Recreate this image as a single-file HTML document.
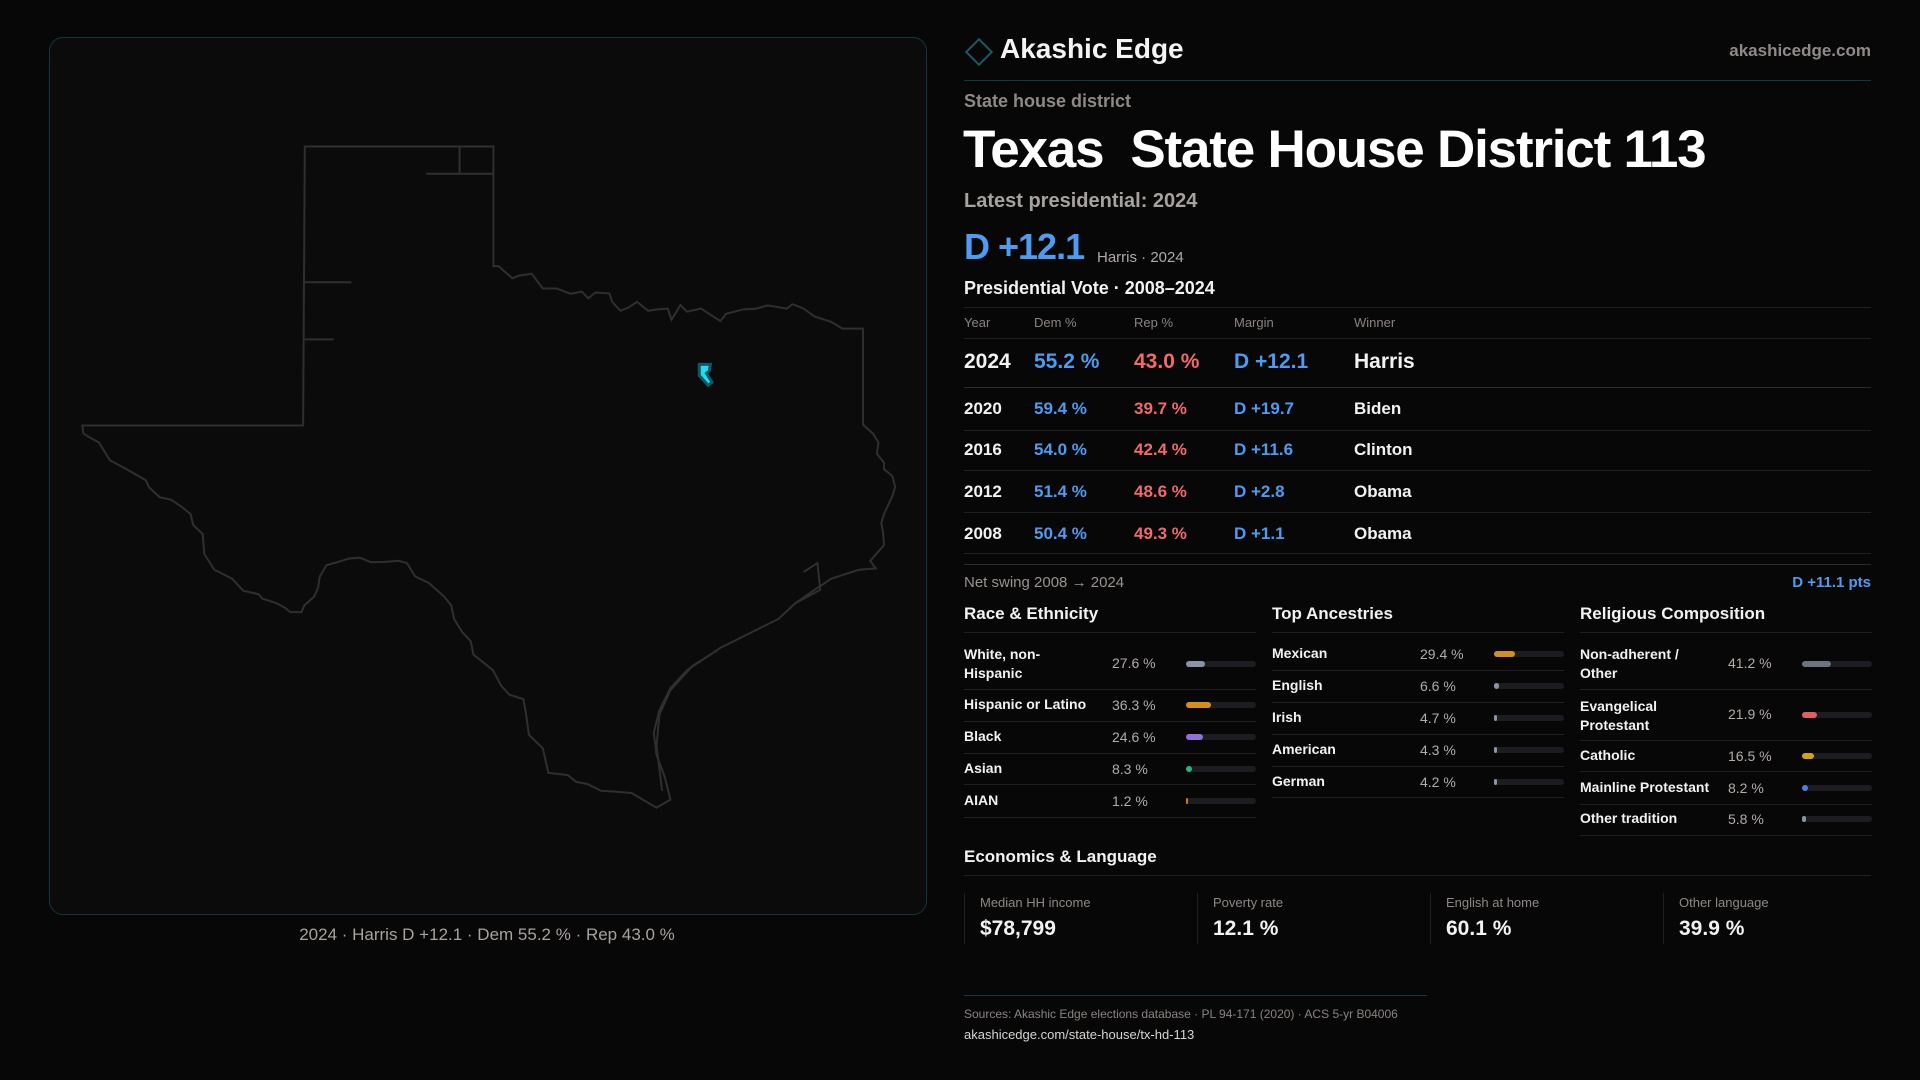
<!DOCTYPE html>
<html><head><meta charset="utf-8"><style>
*{margin:0;padding:0;box-sizing:border-box}
body{width:1920px;height:1080px;background:#070708;font-family:"Liberation Sans",sans-serif;color:#f2f2f2;position:relative;overflow:hidden}
.a{position:absolute;white-space:nowrap}
.panel{position:absolute;left:49px;top:37px;width:878px;height:878px;border:1px solid #14363e;border-radius:14px;background:#0b0b0c}
.g{color:#9a9390}
.blue{color:#4f9bf0}.red{color:#f06a6a}
.hl{position:absolute;height:1px;background:#1e1f22}
.bar{position:absolute;height:6px;border-radius:3px;background:#1c1d21;width:70px}
.bar i{position:absolute;left:0;top:0;height:6px;border-radius:3px;min-width:2px}
.t{font-size:14px}
</style></head><body>
<div class="panel"></div>
<svg class="a" style="left:49px;top:130px" width="870" height="700" viewBox="0 0 1568 1568" preserveAspectRatio="none">
<g fill="none" stroke="#2f2f31" stroke-width="2">
<path vector-effect="non-scaling-stroke" d="M461,37 L801,37 L801,305 L810,305 L835,332 L848,326 L870,322 L890,355 L915,355 L940,367 L960,362 L972,377 L985,364 L1010,366 L1015,385 L1030,405 L1045,397 L1060,385 L1080,405 L1095,402 L1115,400 L1122,425 L1138,392 L1150,407 L1175,400 L1190,412 L1210,428 L1220,412 L1250,402 L1275,400 L1295,393 L1330,400 L1340,390 L1360,400 L1380,418 L1410,430 L1430,445 L1467,445 L1467,660 L1485,680 L1495,700 L1492,725 L1505,745 L1505,760 L1520,775 L1525,800 L1520,820 L1505,860 L1500,880 L1503,900 L1505,930 L1480,965 L1490,982 L1460,985 L1410,1005 L1380,1030 L1345,1060 L1315,1095 L1210,1160 L1150,1210 L1120,1250 L1100,1300 L1090,1350 L1095,1400 L1110,1450 L1120,1500 L1095,1518 L1070,1500 L1050,1485 L1020,1482 L995,1480 L970,1465 L950,1460 L935,1445 L900,1440 L890,1385 L865,1355 L860,1310 L855,1275 L830,1265 L815,1245 L800,1210 L780,1190 L765,1175 L760,1145 L745,1125 L730,1095 L725,1065 L712,1045 L685,1015 L660,1000 L645,970 L630,965 L600,968 L580,968 L560,958 L540,960 L520,968 L500,975 L488,1000 L485,1025 L478,1045 L460,1065 L455,1080 L435,1080 L425,1070 L410,1060 L385,1050 L378,1040 L350,1032 L330,1005 L298,985 L280,950 L277,905 L260,885 L255,860 L240,845 L220,828 L200,823 L180,800 L175,785 L140,760 L110,740 L100,720 L90,700 L75,690 L62,680 L60,662 L458,662 Z"/>
<path vector-effect="non-scaling-stroke" d="M740,37 L740,98 M680,98 L801,98 M461,341 L545,341 M461,469 L513,469 M1105,1480 L1095,1380 L1100,1310 L1120,1255 L1160,1200 L1205,1165 M1345,1060 L1390,1030 L1385,970 L1360,990"/>
</g>
<path d="M1172,525 L1192,525 L1190,540 L1185,545 L1195,565 L1188,572 L1172,550 Z" fill="#22dcf2" stroke="#0e5866" stroke-width="3" vector-effect="non-scaling-stroke"/>
</svg>
<div class="a g" style="left:0;width:974px;text-align:center;top:925px;font-size:17px;color:#a8a29e">2024 · Harris D +12.1 · Dem 55.2 % · Rep 43.0 %</div>

<div class="a" style="left:969px;top:42px;width:20px;height:20px;border:2px solid #1c5866;transform:rotate(45deg)"></div>
<div class="a" style="left:1000px;top:33px;font-size:28px;font-weight:bold;color:#f4f4f4">Akashic Edge</div>
<div class="a g" style="right:49px;top:41px;font-size:17px;font-weight:bold;color:#8f8a88">akashicedge.com</div>
<div class="hl" style="left:964px;width:907px;top:80px;background:#0f3a44"></div>
<div class="a g" style="left:964px;top:91px;font-size:18px;font-weight:bold;color:#8f8884">State house district</div>
<div class="a" style="left:963px;top:119px;font-size:53px;font-weight:bold;letter-spacing:-1.2px;color:#fff">Texas&nbsp; State House District 113</div>
<div class="a g" style="left:964px;top:190px;font-size:20px;font-weight:bold;color:#a8a29e">Latest presidential: 2024</div>
<div class="a blue" style="left:964px;top:226px;font-size:36px;font-weight:bold;letter-spacing:-1px">D +12.1</div>
<div class="a g" style="left:1097px;top:249px;font-size:15px;color:#b0aaa6">Harris · 2024</div>
<div class="a" style="left:964px;top:278px;font-size:18px;font-weight:bold">Presidential Vote · 2008–2024</div>
<div class="hl" style="left:964px;width:907px;top:307px"></div>
<div class="a g t" style="left:964px;top:315px;font-size:13px;color:#8a8480">Year</div>
<div class="a g" style="left:1034px;top:315px;font-size:13px;color:#8a8480">Dem %</div>
<div class="a g" style="left:1134px;top:315px;font-size:13px;color:#8a8480">Rep %</div>
<div class="a g" style="left:1234px;top:315px;font-size:13px;color:#8a8480">Margin</div>
<div class="a g" style="left:1354px;top:315px;font-size:13px;color:#8a8480">Winner</div>
<div class="hl" style="left:964px;width:907px;top:338px"></div>
<div style="position:absolute;left:964px;top:350px;font-size:21px;font-weight:bold">
<span class="a" style="left:0">2024</span><span class="a blue" style="left:70px">55.2 %</span><span class="a red" style="left:170px">43.0 %</span><span class="a blue" style="left:270px">D +12.1</span><span class="a" style="left:390px">Harris</span></div>
<div class="hl" style="left:964px;width:907px;top:387px;background:#2a2b2e"></div>
<div style="position:absolute;left:964px;top:399px;font-size:17px;font-weight:bold">
<span class="a" style="left:0">2020</span><span class="a blue" style="left:70px">59.4 %</span><span class="a red" style="left:170px">39.7 %</span><span class="a blue" style="left:270px">D +19.7</span><span class="a" style="left:390px">Biden</span></div>
<div class="hl" style="left:964px;width:907px;top:430px"></div>
<div style="position:absolute;left:964px;top:440px;font-size:17px;font-weight:bold">
<span class="a" style="left:0">2016</span><span class="a blue" style="left:70px">54.0 %</span><span class="a red" style="left:170px">42.4 %</span><span class="a blue" style="left:270px">D +11.6</span><span class="a" style="left:390px">Clinton</span></div>
<div class="hl" style="left:964px;width:907px;top:470px"></div>
<div style="position:absolute;left:964px;top:482px;font-size:17px;font-weight:bold">
<span class="a" style="left:0">2012</span><span class="a blue" style="left:70px">51.4 %</span><span class="a red" style="left:170px">48.6 %</span><span class="a blue" style="left:270px">D +2.8</span><span class="a" style="left:390px">Obama</span></div>
<div class="hl" style="left:964px;width:907px;top:512px"></div>
<div style="position:absolute;left:964px;top:524px;font-size:17px;font-weight:bold">
<span class="a" style="left:0">2008</span><span class="a blue" style="left:70px">50.4 %</span><span class="a red" style="left:170px">49.3 %</span><span class="a blue" style="left:270px">D +1.1</span><span class="a" style="left:390px">Obama</span></div>
<div class="hl" style="left:964px;width:907px;top:553px"></div>
<div class="hl" style="left:964px;width:907px;top:564px;background:#2a2b2e"></div>
<div class="a g" style="left:964px;top:574px;font-size:15px;color:#9a9390">Net swing 2008 → 2024</div>
<div class="a blue" style="right:49px;top:574px;font-size:15px;font-weight:bold">D +11.1 pts</div>

<div class="a" style="left:964px;top:604px;font-size:17px;font-weight:bold">Race &amp; Ethnicity</div>
<div class="a" style="left:1272px;top:604px;font-size:17px;font-weight:bold">Top Ancestries</div>
<div class="a" style="left:1580px;top:604px;font-size:17px;font-weight:bold">Religious Composition</div>
<div class="hl" style="left:964px;width:292px;top:632px"></div>
<div class="hl" style="left:1272px;width:292px;top:632px"></div>
<div class="hl" style="left:1580px;width:292px;top:632px"></div>

<div class="a" style="left:964px;top:645px;font-size:14px;font-weight:bold;line-height:19px;white-space:normal;width:120px">White, non-<br>Hispanic</div>
<div class="a g t" style="left:1112px;top:655px;color:#b3aca8">27.6 %</div>
<div class="bar" style="left:1186px;top:661px"><i style="width:19px;background:#8a94a6"></i></div>
<div class="hl" style="left:964px;width:292px;top:689px"></div>
<div class="a" style="left:964px;top:696px;font-size:14px;font-weight:bold">Hispanic or Latino</div>
<div class="a g t" style="left:1112px;top:697px;color:#b3aca8">36.3 %</div>
<div class="bar" style="left:1186px;top:702px"><i style="width:25px;background:#d4901a"></i></div>
<div class="hl" style="left:964px;width:292px;top:721px"></div>
<div class="a" style="left:964px;top:728px;font-size:14px;font-weight:bold">Black</div>
<div class="a g t" style="left:1112px;top:729px;color:#b3aca8">24.6 %</div>
<div class="bar" style="left:1186px;top:734px"><i style="width:17px;background:#8e72d8"></i></div>
<div class="hl" style="left:964px;width:292px;top:753px"></div>
<div class="a" style="left:964px;top:760px;font-size:14px;font-weight:bold">Asian</div>
<div class="a g t" style="left:1112px;top:761px;color:#b3aca8">8.3 %</div>
<div class="bar" style="left:1186px;top:766px"><i style="width:6px;background:#2ab47a"></i></div>
<div class="hl" style="left:964px;width:292px;top:784px"></div>
<div class="a" style="left:964px;top:792px;font-size:14px;font-weight:bold">AIAN</div>
<div class="a g t" style="left:1112px;top:793px;color:#b3aca8">1.2 %</div>
<div class="bar" style="left:1186px;top:798px"><i style="width:2px;background:#d07a20"></i></div>
<div class="hl" style="left:964px;width:292px;top:817px"></div>

<div class="a" style="left:1272px;top:645px;font-size:14px;font-weight:bold">Mexican</div>
<div class="a g t" style="left:1420px;top:646px;color:#b3aca8">29.4 %</div>
<div class="bar" style="left:1494px;top:651px"><i style="width:21px;background:#d4901a"></i></div>
<div class="hl" style="left:1272px;width:292px;top:670px"></div>
<div class="a" style="left:1272px;top:677px;font-size:14px;font-weight:bold">English</div>
<div class="a g t" style="left:1420px;top:678px;color:#b3aca8">6.6 %</div>
<div class="bar" style="left:1494px;top:683px"><i style="width:5px;background:#8a94a6"></i></div>
<div class="hl" style="left:1272px;width:292px;top:702px"></div>
<div class="a" style="left:1272px;top:709px;font-size:14px;font-weight:bold">Irish</div>
<div class="a g t" style="left:1420px;top:710px;color:#b3aca8">4.7 %</div>
<div class="bar" style="left:1494px;top:715px"><i style="width:3px;background:#8a94a6"></i></div>
<div class="hl" style="left:1272px;width:292px;top:734px"></div>
<div class="a" style="left:1272px;top:741px;font-size:14px;font-weight:bold">American</div>
<div class="a g t" style="left:1420px;top:742px;color:#b3aca8">4.3 %</div>
<div class="bar" style="left:1494px;top:747px"><i style="width:3px;background:#8a94a6"></i></div>
<div class="hl" style="left:1272px;width:292px;top:766px"></div>
<div class="a" style="left:1272px;top:773px;font-size:14px;font-weight:bold">German</div>
<div class="a g t" style="left:1420px;top:774px;color:#b3aca8">4.2 %</div>
<div class="bar" style="left:1494px;top:779px"><i style="width:3px;background:#8a94a6"></i></div>
<div class="hl" style="left:1272px;width:292px;top:797px"></div>

<div class="a" style="left:1580px;top:645px;font-size:14px;font-weight:bold;line-height:19px">Non-adherent /<br>Other</div>
<div class="a g t" style="left:1728px;top:655px;color:#b3aca8">41.2 %</div>
<div class="bar" style="left:1802px;top:661px"><i style="width:29px;background:#6b7280"></i></div>
<div class="hl" style="left:1580px;width:292px;top:689px"></div>
<div class="a" style="left:1580px;top:697px;font-size:14px;font-weight:bold;line-height:19px">Evangelical<br>Protestant</div>
<div class="a g t" style="left:1728px;top:706px;color:#b3aca8">21.9 %</div>
<div class="bar" style="left:1802px;top:712px"><i style="width:15px;background:#e06060"></i></div>
<div class="hl" style="left:1580px;width:292px;top:740px"></div>
<div class="a" style="left:1580px;top:747px;font-size:14px;font-weight:bold">Catholic</div>
<div class="a g t" style="left:1728px;top:748px;color:#b3aca8">16.5 %</div>
<div class="bar" style="left:1802px;top:753px"><i style="width:12px;background:#d4a017"></i></div>
<div class="hl" style="left:1580px;width:292px;top:771px"></div>
<div class="a" style="left:1580px;top:779px;font-size:14px;font-weight:bold">Mainline Protestant</div>
<div class="a g t" style="left:1728px;top:780px;color:#b3aca8">8.2 %</div>
<div class="bar" style="left:1802px;top:785px"><i style="width:6px;background:#4a80e0"></i></div>
<div class="hl" style="left:1580px;width:292px;top:804px"></div>
<div class="a" style="left:1580px;top:810px;font-size:14px;font-weight:bold">Other tradition</div>
<div class="a g t" style="left:1728px;top:811px;color:#b3aca8">5.8 %</div>
<div class="bar" style="left:1802px;top:816px"><i style="width:4px;background:#8a94a6"></i></div>
<div class="hl" style="left:1580px;width:292px;top:835px"></div>

<div class="a" style="left:964px;top:847px;font-size:17px;font-weight:bold">Economics &amp; Language</div>
<div class="hl" style="left:964px;width:907px;top:875px"></div>
<div class="a" style="left:964px;top:893px;width:1px;height:51px;background:#1e1f22"></div>
<div class="a" style="left:1197px;top:893px;width:1px;height:51px;background:#1e1f22"></div>
<div class="a" style="left:1430px;top:893px;width:1px;height:51px;background:#1e1f22"></div>
<div class="a" style="left:1663px;top:893px;width:1px;height:51px;background:#1e1f22"></div>
<div class="a g" style="left:980px;top:895px;font-size:13px;color:#8f8884">Median HH income</div>
<div class="a g" style="left:1213px;top:895px;font-size:13px;color:#8f8884">Poverty rate</div>
<div class="a g" style="left:1446px;top:895px;font-size:13px;color:#8f8884">English at home</div>
<div class="a g" style="left:1679px;top:895px;font-size:13px;color:#8f8884">Other language</div>
<div class="a" style="left:980px;top:917px;font-size:21px;font-weight:bold">$78,799</div>
<div class="a" style="left:1213px;top:917px;font-size:21px;font-weight:bold">12.1 %</div>
<div class="a" style="left:1446px;top:917px;font-size:21px;font-weight:bold">60.1 %</div>
<div class="a" style="left:1679px;top:917px;font-size:21px;font-weight:bold">39.9 %</div>

<div class="hl" style="left:964px;width:463px;top:995px;background:#123a42"></div>
<div class="a g" style="left:964px;top:1007px;font-size:12px;color:#8a8480">Sources: Akashic Edge elections database · PL 94-171 (2020) · ACS 5-yr B04006</div>
<div class="a" style="left:964px;top:1027px;font-size:13px;color:#d8d4d0">akashicedge.com/state-house/tx-hd-113</div>
</body></html>
